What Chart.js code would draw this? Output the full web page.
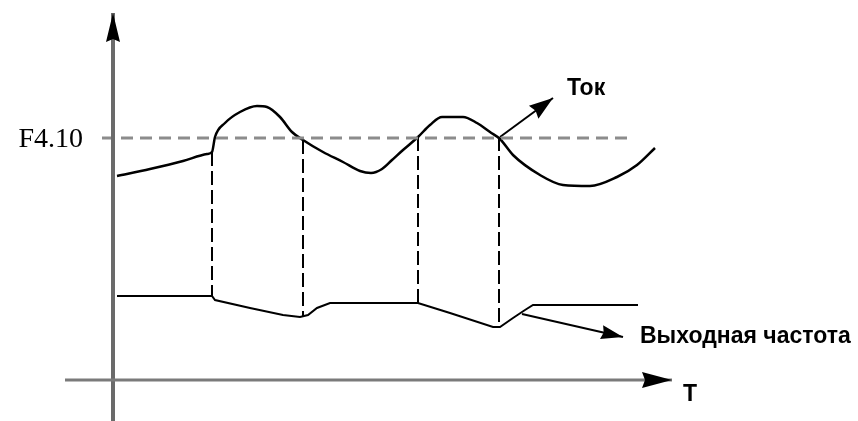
<!DOCTYPE html>
<html>
<head>
<meta charset="utf-8">
<script src="https://cdn.jsdelivr.net/npm/chart.js@4"></script>
<style>
  html, body { margin: 0; padding: 0; background: #fff; }
  canvas { display: block; }
</style>
</head>
<body>
<canvas id="chart" width="858" height="421"></canvas>
<script>
// time axis T (origin at vertical axis), value axis (origin at T axis)
const tokT   = [4, 37, 70, 94, 99, 102, 112, 127, 144, 154, 167, 179, 190, 210, 230, 247, 258, 269, 279, 290, 305, 317, 329, 350, 364, 377, 387, 400, 427, 450, 477, 504, 524, 542];
const tokVal = [204, 211, 219, 226, 228, 243, 257, 268, 274, 273, 263, 248, 240, 228, 218, 209, 207, 211, 220, 230, 243, 255, 263, 263, 257, 248, 241, 225, 205, 195, 194, 203, 215, 232];

const freqT   = [4, 99, 102, 137, 170, 187, 195, 204, 217, 305, 337, 380, 387, 400, 412, 420, 525];
const freqVal = [84, 84, 80, 72, 65, 63, 65, 72, 77, 77, 67, 53, 53, 62, 70, 75, 75];

const limitLevel = 242;          // F4.10
const limitFrom = -11, limitTo = 520;

// moments where current crosses F4.10
const crossT      = [99, 190, 305, 386];
const crossTop    = [228, 240, 243, 243];
const crossBottom = [84, 63, 77, 53];

const tokArrowT = [387, 440], tokArrowVal = [243, 282];
const freqArrowT = [409, 510], freqArrowVal = [66, 43];

const labels = {
  limit: 'F4.10',
  tok: 'Ток',
  freq: 'Выходная частота',
  time: 'T'
};

function pts(xs, ys) {
  return xs.map((x, i) => ({ x: x, y: ys[i] }));
}

const datasets = [
  { data: pts([-48, 559], [0, 0]), borderColor: '#7a7a7a', borderWidth: 3, arrow: { len: 30, half: 8 } },
  { data: pts([0, 0], [-41, 367]), borderColor: '#6a6a6a', borderWidth: 4, arrow: { len: 29, half: 7 } },
  { data: pts([limitFrom, limitTo], [limitLevel, limitLevel]), borderColor: '#8c8c8c', borderWidth: 3, borderDash: [12, 7] },
  { data: pts(tokT, tokVal), borderColor: '#000', borderWidth: 2.5, cubicInterpolationMode: 'monotone' },
  { data: pts(freqT, freqVal), borderColor: '#000', borderWidth: 2 },
  { data: pts(tokArrowT, tokArrowVal), borderColor: '#000', borderWidth: 2, arrow: { len: 24, half: 8 } },
  { data: pts(freqArrowT, freqArrowVal), borderColor: '#000', borderWidth: 2, arrow: { len: 22, half: 7 } }
];

crossT.forEach((t, i) => {
  datasets.push({
    data: pts([t, t], [crossTop[i], crossBottom[i]]),
    borderColor: '#000', borderWidth: 2, borderDash: [14, 5]
  });
});

datasets.forEach(d => {
  d.showLine = true;
  d.pointRadius = 0;
  d.fill = false;
  if (d.tension === undefined) d.tension = 0;
});

// arrowheads at the last point of a dataset, plus the text labels
const decorations = {
  id: 'decorations',
  afterDatasetsDraw(chart) {
    const ctx = chart.ctx;
    const xs = chart.scales.x, ys = chart.scales.y;
    chart.data.datasets.forEach(ds => {
      if (!ds.arrow) return;
      const n = ds.data.length;
      const a = ds.data[n - 2], b = ds.data[n - 1];
      const x1 = xs.getPixelForValue(a.x), y1 = ys.getPixelForValue(a.y);
      const x2 = xs.getPixelForValue(b.x), y2 = ys.getPixelForValue(b.y);
      const ang = Math.atan2(y2 - y1, x2 - x1);
      const L = ds.arrow.len, H = ds.arrow.half;
      ctx.save();
      ctx.translate(x2, y2);
      ctx.rotate(ang);
      ctx.beginPath();
      ctx.moveTo(0, 0);
      ctx.lineTo(-L, -H);
      ctx.lineTo(-L * 0.9, 0);
      ctx.lineTo(-L, H);
      ctx.closePath();
      ctx.fillStyle = '#000';
      ctx.fill();
      ctx.restore();
    });

    ctx.save();
    ctx.fillStyle = '#000';
    ctx.textBaseline = 'alphabetic';
    ctx.font = '28px "Liberation Serif", "Times New Roman", serif';
    ctx.textAlign = 'right';
    ctx.fillText(labels.limit, xs.getPixelForValue(-30), ys.getPixelForValue(233));
    ctx.textAlign = 'left';
    ctx.font = 'bold 23px "Liberation Sans", Arial, sans-serif';
    ctx.fillText(labels.tok, xs.getPixelForValue(454), ys.getPixelForValue(285));
    ctx.fillText(labels.freq, xs.getPixelForValue(527), ys.getPixelForValue(37));
    ctx.fillText(labels.time, xs.getPixelForValue(570), ys.getPixelForValue(-21));
    ctx.restore();
  }
};

new Chart(document.getElementById('chart').getContext('2d'), {
  type: 'scatter',
  data: { datasets: datasets },
  options: {
    responsive: false,
    animation: false,
    layout: { padding: 0 },
    plugins: { legend: { display: false }, tooltip: { enabled: false } },
    scales: {
      x: { type: 'linear', min: -113, max: 745, display: false },
      y: { type: 'linear', min: -41, max: 380, display: false }
    }
  },
  plugins: [decorations]
});
</script>
</body>
</html>
